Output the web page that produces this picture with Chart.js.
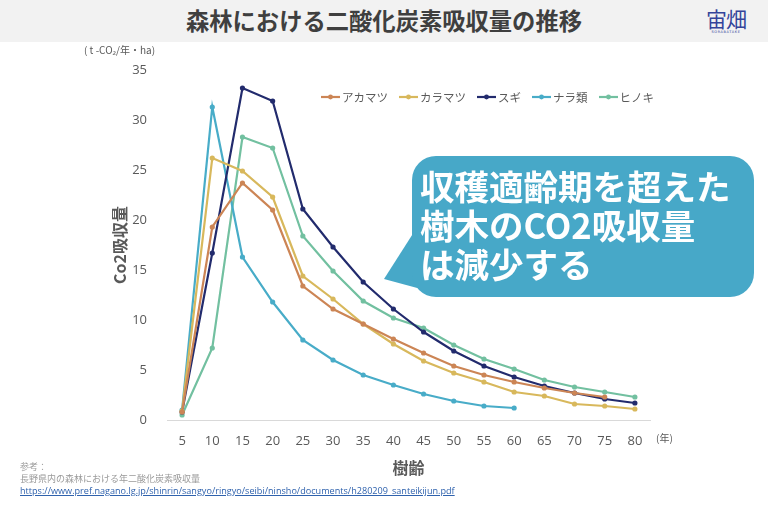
<!DOCTYPE html>
<html lang="ja">
<head>
<meta charset="utf-8">
<script src="https://cdn.jsdelivr.net/npm/chart.js@4.4.1/dist/chart.umd.min.js"></script>
<style>
  html, body { margin: 0; padding: 0; background: #ffffff; }
  body { width: 768px; height: 511px; position: relative; overflow: hidden; font-family: "Noto Sans CJK JP", "Noto Sans", sans-serif; }
  #header { position: absolute; left: 0; top: 0; width: 768px; height: 42px; background: #f2f2f2; }
  #title { position: absolute; left: 0; top: 5px; width: 768px; text-align: center; font-size: 23.3px; font-weight: 700; color: #3f3f3f; line-height: 30px; }
  #logo { position: absolute; left: 702px; top: 6px; width: 48px; text-align: center; color: #34449a; }
  #logo .main { font-size: 21px; font-weight: 400; line-height: 24px; letter-spacing: -1px; }
  #logo .sub { font-family: "DejaVu Sans", sans-serif; font-size: 3.5px; line-height: 5px; letter-spacing: 0.6px; color: #34449a; }
  #wrap { position: absolute; left: 0; top: 0; width: 768px; height: 511px; }
  #unit { position: absolute; left: 84px; top: 43px; font-size: 10px; color: #595959; line-height: 14px; }
  #nen { position: absolute; left: 656px; top: 431px; font-size: 10px; color: #595959; line-height: 14px; }
  #foot { position: absolute; left: 20px; top: 461px; font-size: 9px; line-height: 12px; color: #9a9a9a; }
  #foot a { color: #2f62ad; text-decoration: underline; font-family: "Open Sans", "Noto Sans", sans-serif; font-size: 9.1px; }
  #bubble { position: absolute; left: 412px; top: 156px; width: 342px; height: 141px; background: #47a8c8; border-radius: 24px; }
  #tail { position: absolute; left: 0; top: 0; }
  #btext { position: absolute; left: 420px; top: 166px; font-size: 34.5px; font-weight: 700; color: #ffffff; line-height: 39px; white-space: nowrap; }
  #legend { position: absolute; left: 321px; top: 89px; display: flex; align-items: center; font-size: 11.5px; color: #595959; line-height: 16px; }
  #legend .item { display: flex; align-items: center; margin-right: 11px; }
  #legend canvas { margin-right: 2px; }
</style>
</head>
<body>
<div id="header"><div id="title">森林における二酸化炭素吸収量の推移</div>
  <div id="logo"><div class="main">宙畑</div><div class="sub">SORABATAKE</div></div>
</div>
<div id="wrap"><canvas id="c" width="768" height="511"></canvas></div>
<div id="unit">( t -CO₂/年・ha)</div>
<div id="nen">(年)</div>
<div id="legend"></div>
<svg id="tail" width="768" height="511"><polygon points="414,232 384,279 432,292" fill="#47a8c8"/></svg>
<div id="bubble"></div>
<div id="btext">収穫適齢期を超えた<br>樹木のCO2吸収量<br>は減少する</div>
<div id="foot">参考：<br>長野県内の森林における年二酸化炭素吸収量<br><a>https://www.pref.nagano.lg.jp/shinrin/sangyo/ringyo/seibi/ninsho/documents/h280209_santeikijun.pdf</a></div>

<script>
const ages = ['5','10','15','20','25','30','35','40','45','50','55','60','65','70','75','80'];
const seriesNames = ['アカマツ','カラマツ','スギ','ナラ類','ヒノキ'];
const akamatsu  = [0.8, 19.3, 23.7, 21.0, 13.4, 11.1, 9.6, 8.1, 6.7, 5.4, 4.5, 3.8, 3.2, 2.7, 2.3, null];
const karamatsu = [0.9, 26.2, 24.9, 22.3, 14.4, 12.1, 9.6, 7.6, 5.9, 4.7, 3.8, 2.8, 2.4, 1.6, 1.4, 1.1];
const sugi      = [0.8, 16.7, 33.2, 31.9, 21.1, 17.3, 13.8, 11.1, 8.8, 6.9, 5.4, 4.3, 3.4, 2.7, 2.1, 1.7];
const nara      = [1.0, 31.3, 16.3, 11.8, 8.0, 6.0, 4.5, 3.5, 2.6, 1.9, 1.4, 1.2, null, null, null, null];
const hinoki    = [0.5, 7.2, 28.3, 27.2, 18.4, 14.9, 11.9, 10.2, 9.2, 7.5, 6.1, 5.1, 4.0, 3.3, 2.8, 2.3];
const yTicks = [0, 5, 10, 15, 20, 25, 30, 35];

const colors = ['#cc8555', '#d8b85c', '#222b6d', '#48acc8', '#72c0a0'];
const allSeries = [akamatsu, karamatsu, sugi, nara, hinoki];

function legendMarker(color) {
  const cv = document.createElement('canvas');
  cv.width = 19; cv.height = 8;
  const g = cv.getContext('2d');
  g.strokeStyle = color; g.lineWidth = 2.2;
  g.beginPath(); g.moveTo(0, 4); g.lineTo(19, 4); g.stroke();
  g.fillStyle = color;
  g.beginPath(); g.arc(9.5, 4, 2.4, 0, Math.PI * 2); g.fill();
  return cv;
}

const legendEl = document.getElementById('legend');
seriesNames.forEach((name, i) => {
  const item = document.createElement('div');
  item.className = 'item';
  item.appendChild(legendMarker(colors[i]));
  const t = document.createElement('span');
  t.textContent = name;
  item.appendChild(t);
  legendEl.appendChild(item);
});

const datasets = allSeries.map((d, i) => ({
  label: seriesNames[i],
  data: d,
  borderColor: colors[i],
  backgroundColor: colors[i],
  borderWidth: 2.2,
  pointRadius: 2.6,
  pointHoverRadius: 2.6,
  pointBackgroundColor: colors[i],
  pointBorderWidth: 0,
  tension: 0,
  spanGaps: false
}));

new Chart(document.getElementById('c'), {
  type: 'line',
  data: { labels: ages, datasets },
  options: {
    responsive: false,
    animation: false,
    devicePixelRatio: 1,
    layout: { padding: { left: 100, top: 70, right: 118, bottom: 20 } },
    plugins: {
      tooltip: { enabled: false },
      legend: { display: false }
    },
    scales: {
      x: {
        type: 'category',
        offset: true,
        grid: { display: false },
        border: { display: true, color: '#d9d9d9', width: 1 },
        ticks: { color: '#595959', font: { family: '"Open Sans", sans-serif', size: 13 }, padding: 5, maxRotation: 0, autoSkip: false },
        title: { display: true, text: '樹齢', color: '#595959', font: { family: '"Noto Sans CJK JP", sans-serif', size: 16, weight: 'bold' }, padding: { top: 3, bottom: 13 } },
        afterFit(s) { s.height = 71; }
      },
      y: {
        min: 0, max: 35,
        grid: { display: false },
        border: { display: false },
        afterBuildTicks(s) { s.ticks = yTicks.map(v => ({ value: v })); },
        ticks: { color: '#595959', font: { family: '"Open Sans", sans-serif', size: 13 }, padding: 12 },
        title: { display: true, text: 'Co2吸収量', color: '#595959', font: { family: '"Noto Sans CJK JP", sans-serif', size: 16, weight: 'bold' }, padding: { top: 10, bottom: 0 } },
        afterFit(s) { s.width = 67; }
      }
    }
  }
});
</script>
</body>
</html>
